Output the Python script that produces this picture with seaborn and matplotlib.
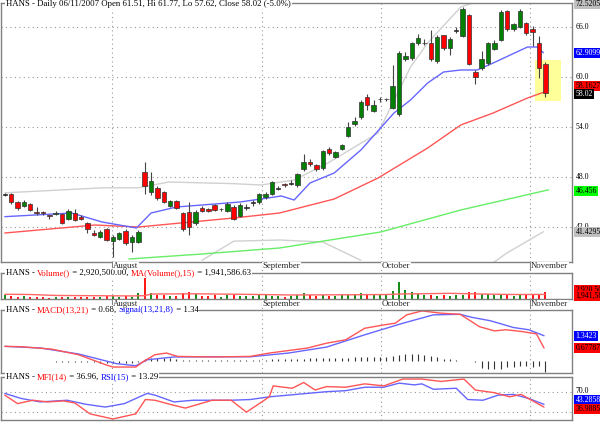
import numpy as np
import pandas as pd
import matplotlib
matplotlib.use("Agg")
import matplotlib.pyplot as plt
import matplotlib.transforms as mtrans
from matplotlib.patches import Rectangle
import seaborn as sns

# ---- data (bar index 0 = first visible day) ----
opens = [45.88, 45.92, 44.96, 44.56, 44.72, 43.8, 43.8, 43.44, 43.6, 43.56,
         42.96, 43.72, 43.24, 42.44, 41.24, 40.84, 41.72, 40.36, 40.52, 41.52,
         40.16, 40.24, 48.64, 46.24, 46.64, 46.16, 44.56, 45.16, 43.64, 43.84,
         42.52, 44.24, 44.16, 44.64, 44.1, 43.96, 44.44, 43.36, 44.3, 44.9,
         44.96, 45.64, 45.92, 46.6, 47.1, 47.16, 47.0, 48.92, 49.84, 49.44,
         49.04, 51.32, 50.44, 51.36, 52.92, 54.32, 55.16, 57.56, 55.96, 57.32,
         57.32, 56.24, 55.52, 62.16, 62.24, 64.04, 64.04, 64.12, 61.96, 65.0,
         63.44, 65.56, 64.96, 67.4, 60.6, 61.12, 61.64, 63.36, 64.44, 67.96,
         65.72, 66.04, 66.52, 65.8, 64.04, 61.51]
closes = [45.92, 44.96, 44.24, 45.04, 44.04, 43.64, 43.64, 43.32, 43.72, 42.52,
          43.96, 42.84, 42.92, 41.72, 41.0, 41.44, 40.44, 40.76, 41.24, 40.04,
          40.84, 41.44, 46.92, 47.56, 45.44, 45.04, 45.12, 44.24, 41.72, 42.04,
          43.84, 43.92, 43.92, 44.04, 44.12, 44.76, 42.96, 44.64, 44.32, 44.92,
          45.96, 45.92, 47.36, 46.62, 47.0, 47.18, 48.36, 49.84, 49.56, 48.96,
          51.12, 50.84, 50.96, 51.84, 53.96, 54.76, 57.04, 56.64, 56.6, 57.34,
          57.34, 58.96, 62.92, 62.56, 64.04, 64.64, 64.06, 62.16, 64.84, 63.44,
          64.6, 65.58, 68.12, 61.56, 59.96, 62.12, 64.04, 64.12, 67.84, 65.72,
          66.32, 67.96, 65.24, 65.4, 61.04, 58.02]
highs = [46.1, 46.1, 45.1, 45.3, 44.9, 44.4, 43.9, 43.5, 43.9, 43.7,
         44.2, 44.1, 43.4, 42.6, 41.6, 41.6, 41.9, 41.0, 41.4, 41.7,
         41.0, 41.6, 49.8, 48.6, 46.9, 46.3, 45.3, 45.3, 43.8, 45.0,
         44.0, 44.5, 44.3, 44.8, 44.3, 45.0, 44.6, 44.9, 44.7, 45.3,
         46.1, 46.2, 47.5, 46.9, 47.3, 47.6, 48.5, 50.7, 50.1, 49.6,
         51.2, 51.6, 51.1, 52.0, 54.6, 55.2, 57.2, 58.0, 57.2, 57.6,
         57.5, 61.4, 63.1, 63.0, 64.2, 65.2, 64.6, 65.6, 65.0, 65.1,
         64.8, 66.0, 68.4, 67.6, 60.9, 63.1, 64.2, 64.5, 68.0, 68.1,
         66.5, 68.2, 66.6, 66.1, 64.9, 61.77]
lows = [45.7, 44.8, 44.0, 44.4, 43.9, 43.4, 43.5, 43.0, 43.5, 42.4,
        42.8, 42.7, 42.8, 41.3, 40.9, 40.7, 40.3, 38.4, 40.4, 39.9,
        39.0, 40.1, 46.0, 45.9, 45.3, 44.9, 44.4, 44.1, 41.5, 41.0,
        42.3, 43.8, 43.8, 43.9, 43.9, 43.8, 42.8, 43.2, 44.0, 44.5,
        44.8, 45.4, 45.8, 46.4, 46.8, 47.0, 46.8, 48.7, 49.3, 48.7,
        48.9, 50.6, 50.3, 51.2, 52.8, 54.1, 55.0, 56.0, 55.8, 57.0,
        57.1, 56.1, 55.3, 61.9, 62.0, 63.8, 63.8, 61.9, 61.7, 63.2,
        62.6, 65.3, 64.8, 61.4, 59.1, 60.8, 61.5, 63.2, 64.3, 65.5,
        65.5, 65.9, 65.0, 63.7, 59.9, 57.62]
volume_m = [1.9, 1.2, 1.0, 1.1, 0.8, 0.7, 0.9, 0.6, 0.8, 1.0,
            0.9, 0.8, 0.7, 1.0, 0.9, 0.8, 1.2, 1.4, 1.0, 1.2,
            1.0, 2.4, 9.5, 2.6, 1.8, 1.6, 1.2, 1.4, 2.6, 2.8,
            2.2, 1.3, 1.4, 1.5, 1.0, 1.6, 1.8, 1.4, 1.2, 1.1,
            1.8, 1.6, 1.4, 1.2, 1.0, 1.3, 1.5, 2.4, 1.8, 1.4,
            1.6, 1.2, 1.4, 1.5, 1.8, 2.3, 2.4, 1.8, 1.6, 1.9,
            2.0, 3.4, 7.4, 3.8, 2.9, 2.2, 1.8, 1.6, 1.4, 1.5,
            1.3, 1.6, 1.9, 3.1, 3.0, 2.0, 2.3, 1.8, 1.6, 2.0,
            1.4, 1.5, 1.6, 1.7, 2.2, 2.9]
macd_hist = [-0.02, -0.02, -0.02, -0.02, -0.02, -0.02, -0.03, -0.04, -0.05, -0.05,
             -0.05, -0.06, -0.06, -0.08, -0.09, -0.10, -0.11, -0.12, -0.12, -0.12,
             -0.11, -0.09, 0.10, 0.14, 0.15, 0.15, 0.13, 0.10, 0.03, 0.02,
             0.02, 0.02, 0.02, 0.02, 0.02, 0.02, 0.02, 0.02, 0.02, 0.03,
             0.04, 0.06, 0.07, 0.07, 0.07, 0.08, 0.08, 0.10, 0.12, 0.12,
             0.12, 0.13, 0.13, 0.14, 0.16, 0.18, 0.18, 0.19, 0.18, 0.20,
             0.22, 0.25, 0.30, 0.35, 0.37, 0.36, 0.33, 0.25, 0.20, 0.09,
             0.07, 0.04, 0.01, 0.01, -0.05, -0.40, -0.45, -0.45, -0.42, -0.35,
             -0.32, -0.30, -0.30, -0.32, -0.30, -0.59]

# indicator lines, sampled as (bar index, value)
ma_blue_x = [0, 10.5, 15.3, 20.7, 23, 27, 37, 43.5, 45.5, 48, 51.8, 56, 61.2, 63.8,
             66.5, 69, 71.7, 74.3, 76.8, 79.5, 82.2, 83.7, 84.7]
ma_blue_y = [43.24, 43.68, 42.6, 41.88, 43.68, 44.4, 45.0, 45.72, 45.24, 47.28, 48.48,
             51.24, 55.68, 57.24, 59.28, 60.6, 60.84, 60.84, 61.68, 62.64, 63.6, 63.6, 62.91]
ma_red_x = [0, 14.2, 21, 36, 43.2, 51.8, 58.7, 66.5, 71.7, 76.8, 82.2, 84.7]
ma_red_y = [41.28, 42.24, 42.0, 43.08, 43.68, 45.36, 47.88, 51.48, 54.24, 55.68, 57.48, 58.16]
ma_green_x = [19.5, 31, 43.2, 59.1, 71.7, 85.5]
ma_green_y = [38.16, 38.76, 39.48, 41.4, 44.04, 46.46]
band_up_x = [0, 15.3, 21, 25.8, 31, 36, 40.3, 45.5, 50.8, 58.7, 63.8, 66.5, 71.7, 76]
band_up_y = [46.1, 46.7, 46.7, 47.4, 47.3, 47.2, 47.04, 47.64, 49.68, 53.28, 61.2, 64.08,
             68.4, 69.5]
band_lo1_x = [31, 36, 43.2, 50, 56]
band_lo1_y = [38.0, 40.3, 40.44, 40.2, 38.0]
band_lo2_x = [76.4, 79, 84.7]
band_lo2_y = [37.5, 38.9, 41.43]
vol_ma_x = [0, 4, 8, 20, 22, 23, 30, 40, 45, 55, 60, 62, 70, 75, 80, 85]
vol_ma_y = [2.0, 1.9, 1.5, 1.3, 1.4, 2.1, 2.2, 1.9, 1.7, 1.8, 1.9, 2.1, 2.4, 2.1, 1.9, 1.94]
macd_x = [0, 2.6, 7.4, 11.6, 15.8, 17, 20.6, 21.8, 23.6, 25.4, 27.2, 32.6, 38.6, 41.6, 47.6,
          50.6, 53.6, 56.6, 59.6, 61.4, 63.2, 65.6, 68.6, 71.6, 73.4, 74.6, 77, 78.8, 81.2, 83.6, 84.8]
macd_y = [0.77, 0.75, 0.62, 0.32, -0.21, -0.34, -0.34, -0.04, 0.32, 0.41, 0.23, 0.20, 0.23, 0.41,
          0.68, 0.94, 1.12, 1.74, 1.92, 2.01, 2.46, 2.67, 2.55, 2.49, 2.10, 1.83, 1.60, 1.66, 1.57,
          1.44, 0.68]
signal_x = [0, 5.6, 11.6, 17.6, 20.6, 22.4, 26.6, 32.6, 38.6, 44.6, 50.6, 56.6, 62.6, 67.4,
            71.6, 73.4, 76.4, 80, 82.4, 84.8]
signal_y = [0.77, 0.68, 0.36, -0.16, -0.27, 0.05, 0.20, 0.21, 0.21, 0.41, 0.73, 1.39, 2.01, 2.46,
            2.49, 2.33, 2.14, 1.78, 1.66, 1.34]
mfi_x = [0, 2, 4.4, 6.8, 9.2, 11, 13.4, 17, 20.6, 22.1, 23.6, 26.6, 28.4, 32.6, 35.6, 38, 41.6,
         42.2, 45.2, 47, 48.8, 50.6, 53.6, 56.6, 59.6, 62.6, 65.6, 68.6, 72.2, 74, 77, 79.4, 81.2,
         83.6, 84.8]
mfi_y = [63.3, 46.7, 53.3, 50, 52, 48, 26.7, 16.7, 26.7, 54.7, 53.3, 43.3, 38, 53.3, 53.3, 30, 60,
         81.3, 76.7, 88, 73.3, 80, 78.7, 85.3, 81.3, 94.7, 94.7, 90, 94.7, 73.3, 68, 60, 64.7, 48, 40]
rsi_x = [0, 2.6, 5.6, 9.8, 12.8, 15.8, 18.8, 22.4, 23.6, 26.6, 29.6, 32.6, 35.6, 38.6, 41.6, 44.6,
         47.6, 50.6, 53.6, 56.6, 59.6, 62, 64.4, 65.6, 67.4, 71, 72.8, 75.2, 77.6, 80, 82.4, 84.8]
rsi_y = [66.7, 56.7, 50, 53.3, 45.3, 40, 46.7, 66.7, 63.3, 50, 53.3, 53.3, 53.3, 54.7, 60, 63.3,
         66.7, 70, 72, 78.7, 78.7, 86.7, 83.3, 85.3, 74.7, 76.7, 54.7, 53.3, 63.3, 64.7, 56.7, 45.3]

months = ["August", "September", "October", "November"]
month_pos = [16.9, 40.4, 59.1, 82.6]
price_ticks = [66.0, 60.0, 54.0, 48.0, 42.0]

# ---- plotting ----
sns.set_style("white")
plt.rcParams['font.family'] = ['Liberation Serif', 'DejaVu Serif']
FS = 6.3
FS_R = 5.6

fig = plt.figure(figsize=(6, 4.25), dpi=100)
W, H = 600, 425
def box(top, bottom, left=1, right=572):
    return [left / W, 1 - bottom / H, (right - left) / W, (bottom - top) / H]

ax_p = fig.add_axes(box(3, 262))
ax_v = fig.add_axes(box(273, 299))
ax_m = fig.add_axes(box(310, 373))
ax_r = fig.add_axes(box(377, 420))

df = pd.DataFrame({"o": opens, "c": closes, "h": highs, "l": lows, "v": volume_m})
df["i"] = np.arange(len(df))
def bar_color(o, c):
    if abs(c - o) < 0.05:
        return "black"
    return "#008000" if c > o else "#ff0000"
df["col"] = [bar_color(o, c) for o, c in zip(df.o, df.c)]

XMAX = 89.2
for ax in (ax_p, ax_v, ax_m, ax_r):
    ax.set_xlim(-0.6, XMAX)
    ax.set_xticks([])
    ax.set_yticks([])
    for s in ax.spines.values():
        s.set_color("#808080")
        s.set_linewidth(1)
    for mp in month_pos:
        ax.axvline(mp, color="#999999", linestyle=(0, (1, 3)), linewidth=0.8, zorder=0)

# price panel
ax_p.set_ylim(37.8, 68.88)
for t in price_ticks:
    ax_p.axhline(t, color="#999999", linestyle=(0, (1, 3)), linewidth=0.8, zorder=0)
ax_p.add_patch(Rectangle((83.4, 57.16), 4.0, 4.88, facecolor="#ffff99", edgecolor="none", zorder=1))
sns.lineplot(x=band_up_x, y=band_up_y, ax=ax_p, color="#d0d0d0", linewidth=1, zorder=2)
sns.lineplot(x=band_lo1_x, y=band_lo1_y, ax=ax_p, color="#d0d0d0", linewidth=1, zorder=2)
sns.lineplot(x=band_lo2_x, y=band_lo2_y, ax=ax_p, color="#d0d0d0", linewidth=1, zorder=2)
sns.lineplot(x=ma_green_x, y=ma_green_y, ax=ax_p, color="#66ee66", linewidth=1, zorder=2)
sns.lineplot(x=ma_red_x, y=ma_red_y, ax=ax_p, color="#ff5555", linewidth=1, zorder=2)
sns.lineplot(x=ma_blue_x, y=ma_blue_y, ax=ax_p, color="#6666ff", linewidth=1, zorder=2)
ax_p.vlines(df.i, df.l, df.h, color="#444444", linewidth=0.8, zorder=3)
bottoms = np.minimum(df.o, df.c)
heights = np.maximum(np.abs(df.c - df.o), 0.08)
ax_p.bar(df.i, heights, bottom=bottoms, width=0.7, color=df.col,
         edgecolor="#333333", linewidth=0.5, zorder=4)

def rlabel(ax, y, txt, fc=None, tc="black"):
    tr = mtrans.blended_transform_factory(ax.transAxes, ax.transData)
    kw = {}
    if fc:
        kw["bbox"] = dict(boxstyle="square,pad=0.12", fc=fc, ec="none")
    ax.text(1.006, y, txt, transform=tr, fontsize=FS_R, color=tc, va="center",
            ha="left", clip_on=False, **kw)

for t in price_ticks:
    rlabel(ax_p, t, f"{t:.1f}")
rlabel(ax_p, 68.7, "72.5205", "#c0c0c0")
rlabel(ax_p, 62.9, "62.9099", "#0000ff", "white")
rlabel(ax_p, 58.95, "58.1627", "#ff0000")
rlabel(ax_p, 58.0, "58.02", "black", "white")
rlabel(ax_p, 46.35, "46.456", "#00ff00")
rlabel(ax_p, 41.4, "41.4295", "#c0c0c0")

# volume panel
ax_v.set_ylim(0, 11)
ax_v.vlines(df.i, 0, df.v, colors=df.col.replace("black", "#008000"), linewidth=1.3)
sns.lineplot(x=vol_ma_x, y=vol_ma_y, ax=ax_v, color="#ff6666", linewidth=1)
rlabel(ax_v, 3.8, "2,920,50", "#ff0000")
rlabel(ax_v, 1.3, "1,941,58", "#ff0000")

# macd panel
ax_m.set_ylim(-0.66, 2.72)
ax_m.vlines(df.i, 0, macd_hist, color="#333333", linewidth=0.8)
sns.lineplot(x=signal_x, y=signal_y, ax=ax_m, color="#6666ff", linewidth=1)
sns.lineplot(x=macd_x, y=macd_y, ax=ax_m, color="#ff5555", linewidth=1)
rlabel(ax_m, 1.34, "1.3423", "#0000ff", "white")
rlabel(ax_m, 0.68, "0.67787", "#ff0000")

# mfi / rsi panel
ax_r.set_ylim(14.7, 98.7)
for lv in (70, 30):
    ax_r.axhline(lv, color="#999999", linestyle=(0, (1, 3)), linewidth=0.8, zorder=0)
sns.lineplot(x=rsi_x, y=rsi_y, ax=ax_r, color="#6666ff", linewidth=1)
sns.lineplot(x=mfi_x, y=mfi_y, ax=ax_r, color="#ff5555", linewidth=1)
rlabel(ax_r, 72, "70.0")
rlabel(ax_r, 53.3, "43.2858", "#0000ff", "white")
rlabel(ax_r, 36, "36.9885", "#ff0000")

# multi-colour panel titles
renderer = fig.canvas.get_renderer()
def title(parts, y):
    x = 6
    for txt, col in parts:
        t = fig.text(x / W, 1 - y / H, txt, color=col, fontsize=FS, va="center", ha="left",
                     bbox=dict(boxstyle="square,pad=0.1", fc="white", ec="none"))
        x += t.get_window_extent(renderer).width

title([("HANS - Daily 06/11/2007 Open 61.51, Hi 61.77, Lo 57.62, Close 58.02 (-5.0%)", "black")], 4)
title([("HANS - ", "black"), ("Volume()", "#ff0000"), (" = 2,920,500.00, ", "black"),
       ("MA(Volume(),15)", "#ff0000"), (" = 1,941,586.63", "black")], 273)
title([("HANS - ", "black"), ("MACD(13,21)", "#ff0000"), (" = 0.68, ", "black"),
       ("Signal(13,21,8)", "#0000ff"), (" = 1.34", "black")], 310)
title([("HANS - ", "black"), ("MFI(14)", "#ff0000"), (" = 36.96, ", "black"),
       ("RSI(15)", "#0000ff"), (" = 13.29", "black")], 377)

# month labels below price and volume panels (drawn over the titles)
x0, x1 = ax_p.get_xlim()
for yy in (266, 304):
    for name, mp in zip(months, month_pos):
        px = 1 + (mp - x0) / (x1 - x0) * 571
        fig.text((px + 1) / W, 1 - yy / H, name, fontsize=FS, va="center", ha="left",
                 zorder=10, bbox=dict(boxstyle="square,pad=0.05", fc="white", ec="none"))
        fig.add_artist(plt.Line2D([px / W, px / W], [1 - (yy - 4) / H, 1 - (yy + 4) / H],
                                  color="#808080", linewidth=0.8))

fig.savefig("out.png", dpi=100)
